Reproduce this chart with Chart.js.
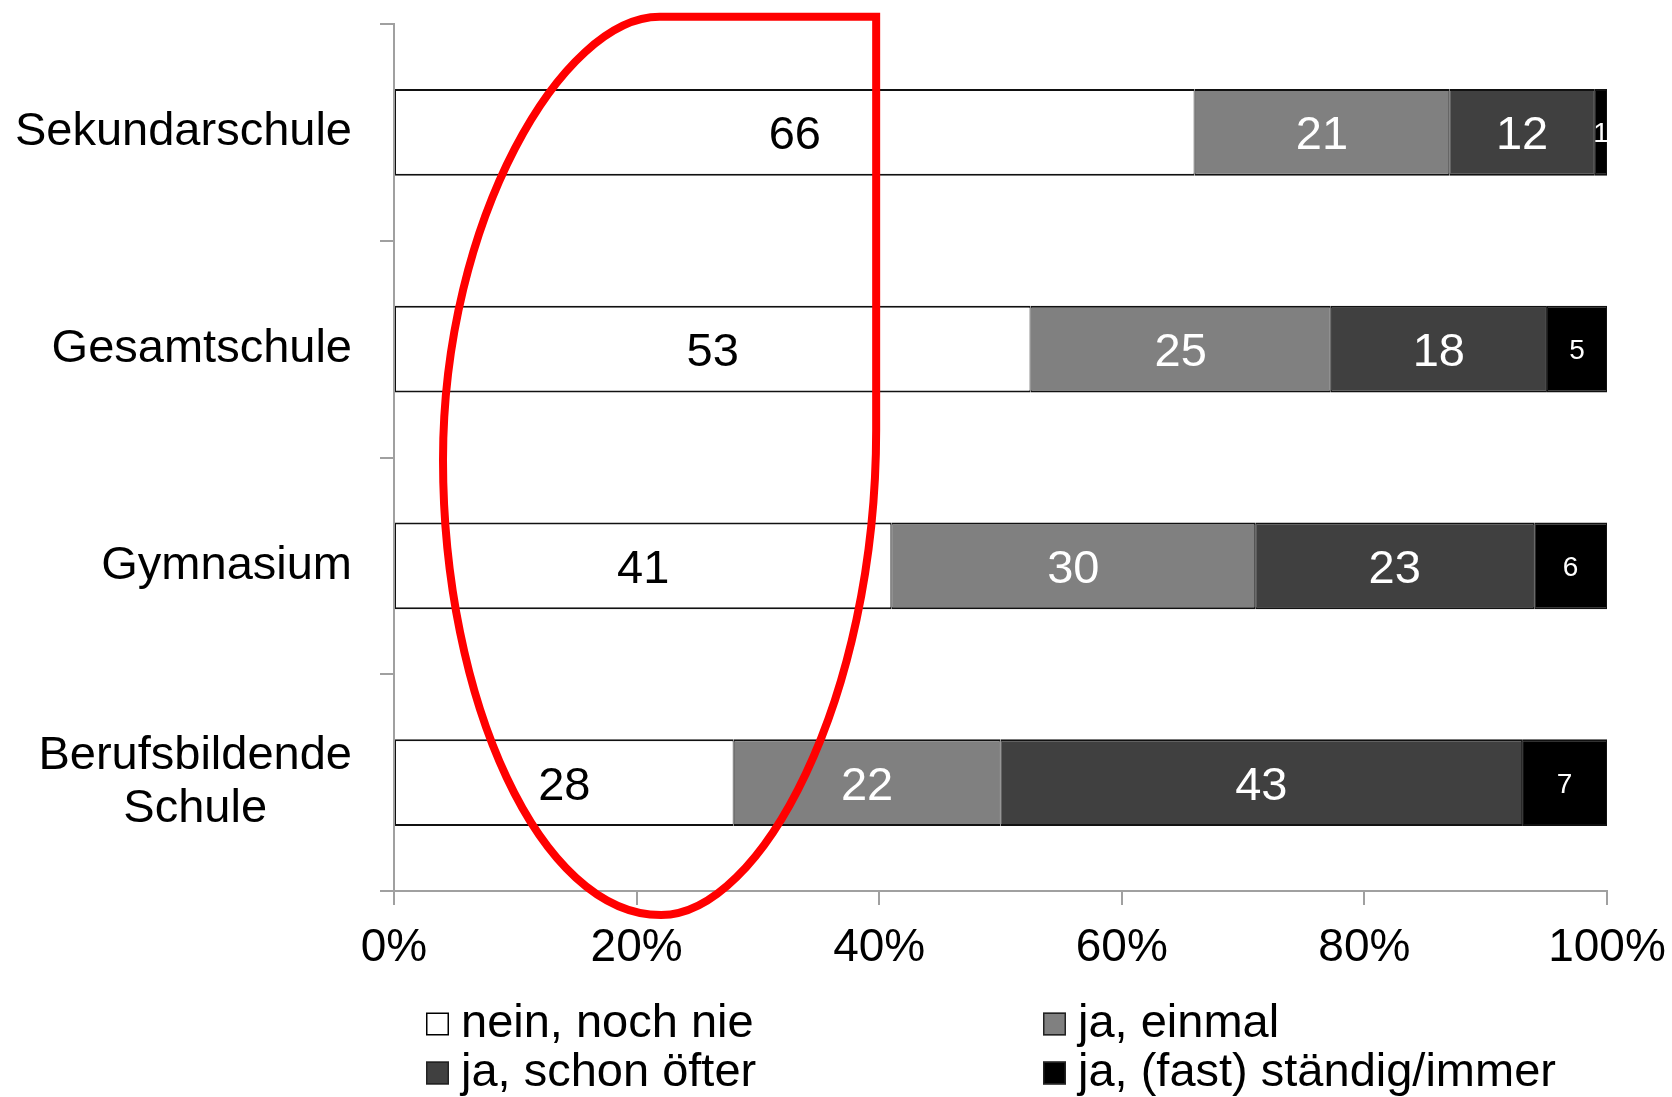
<!DOCTYPE html>
<html>
<head>
<meta charset="utf-8">
<title>Schulformen</title>
<script src="https://cdn.jsdelivr.net/npm/chart.js@4.4.1/dist/chart.umd.min.js"></script>
<style>
  html, body { margin: 0; padding: 0; background: #ffffff; }
  #wrap { width: 1672px; height: 1097px; position: relative; }
</style>
</head>
<body>
<div id="wrap"><canvas id="chart"></canvas></div>
<script>
// Categories (multi-line labels as arrays of lines)
const categories = [["Sekundarschule"], ["Gesamtschule"], ["Gymnasium"], ["Berufsbildende", "Schule"]];

// Answer categories
const seriesNames = ["nein, noch nie", "ja, einmal", "ja, schon öfter", "ja, (fast) ständig/immer"];

// Percent values per school type
const neinNochNie   = [66, 53, 41, 28];
const jaEinmal      = [21, 25, 30, 22];
const jaSchonOefter = [12, 18, 23, 43];
const jaStaendig    = [1, 5, 6, 7];

const xTickLabels = ["0%", "20%", "40%", "60%", "80%", "100%"];

// Styling
const FONT = "'Liberation Sans', Arial, Helvetica, sans-serif";
const seriesColors = ["#ffffff", "#808080", "#404040", "#000000"];
const labelColors  = ["#000000", "#ffffff", "#ffffff", "#ffffff"];
const AXIS_GREY = "#a0a0a0";

const seriesValues = [neinNochNie, jaEinmal, jaSchonOefter, jaStaendig];
const rowTotals = categories.map((_, i) => seriesValues.reduce((s, arr) => s + arr[i], 0));

Chart.defaults.font.family = FONT;
Chart.defaults.color = "#000000";

const datasets = seriesValues.map((vals, k) => ({
  label: seriesNames[k],
  counts: vals,
  // 100 % stacked: each segment is its share of the row total
  data: vals.map((v, i) => v / rowTotals[i] * 100),
  backgroundColor: seriesColors[k],
  borderColor: "#111111",
  borderWidth: { top: 2, bottom: 2, left: 1, right: 1 },
  borderSkipped: false,
  categoryPercentage: 1.0,
  barPercentage: 0.4
}));

// Values written into the bar segments
const segmentLabels = {
  id: "segmentLabels",
  afterDatasetsDraw(chart) {
    const ctx = chart.ctx;
    ctx.save();
    ctx.textAlign = "center";
    ctx.textBaseline = "alphabetic";
    chart.data.datasets.forEach((ds, di) => {
      const meta = chart.getDatasetMeta(di);
      meta.data.forEach((bar, i) => {
        const v = ds.counts[i];
        const small = v < 10;
        ctx.font = (small ? "28px " : "47px ") + FONT;
        ctx.fillStyle = labelColors[di];
        ctx.fillText(String(v), (bar.x + bar.base) / 2, bar.y + (small ? 10 : 17));
      });
    });
    ctx.restore();
  }
};

// Category names: right-aligned block, lines centred within the block
const categoryLabels = {
  id: "categoryLabels",
  afterDraw(chart) {
    const ctx = chart.ctx;
    const y = chart.scales.y;
    const right = y.right - 42;
    const lineH = 53;
    ctx.save();
    ctx.font = "47px " + FONT;
    ctx.fillStyle = "#000000";
    ctx.textAlign = "center";
    ctx.textBaseline = "alphabetic";
    categories.forEach((lines, i) => {
      const cy = y.getPixelForValue(i);
      const w = Math.max(...lines.map(l => ctx.measureText(l).width));
      const cx = right - w / 2;
      const first = cy - (lines.length - 1) * lineH / 2;
      lines.forEach((l, j) => ctx.fillText(l, cx, first + j * lineH + 13));
    });
    ctx.restore();
  }
};

// Two-column legend below the axis
const gridLegend = {
  id: "gridLegend",
  afterDraw(chart) {
    const ctx = chart.ctx;
    const colX = [426, 1043];
    const rowY = [1024, 1073];
    const box = 23;
    ctx.save();
    ctx.font = "47px " + FONT;
    ctx.textAlign = "left";
    ctx.textBaseline = "middle";
    chart.data.datasets.forEach((ds, k) => {
      const x = colX[k % 2], yy = rowY[Math.floor(k / 2)];
      ctx.fillStyle = ds.backgroundColor;
      ctx.fillRect(x, yy - box / 2, box, box);
      ctx.lineWidth = 1.5;
      ctx.strokeStyle = k === 0 ? "#000000" : "#222222";
      ctx.strokeRect(x + 0.75, yy - box / 2 + 0.75, box - 1.5, box - 1.5);
      ctx.fillStyle = "#000000";
      ctx.fillText(ds.label, x + box + 12, yy);
    });
    ctx.restore();
  }
};

// Red outline marking the lower answer range (x in %, y in category units)
const highlight = {
  id: "highlight",
  afterDraw(chart) {
    const xs = chart.scales.x, ys = chart.scales.y;
    const P = (xv, yv) => [xs.getPixelForValue(xv), ys.getPixelForValue(yv)];
    const ctx = chart.ctx;
    const top = P(39.75, -0.533);
    ctx.save();
    ctx.strokeStyle = "#ff0000";
    ctx.lineWidth = 8;
    ctx.lineJoin = "miter";
    ctx.beginPath();
    ctx.moveTo(...top);
    ctx.lineTo(...P(21.9, -0.533));
    ctx.bezierCurveTo(...P(13.9, -0.533), ...P(4.04, 0.404), ...P(4.04, 1.511));
    ctx.bezierCurveTo(...P(4.04, 2.618), ...P(12.04, 3.611), ...P(22.02, 3.611));
    ctx.bezierCurveTo(...P(30.19, 3.611), ...P(39.75, 2.618), ...P(39.75, 1.373));
    ctx.closePath();
    ctx.stroke();
    ctx.restore();
  }
};

new Chart(document.getElementById("chart"), {
  type: "bar",
  data: { labels: categories, datasets },
  plugins: [segmentLabels, categoryLabels, gridLegend, highlight],
  options: {
    indexAxis: "y",
    responsive: true,
    maintainAspectRatio: false,
    animation: false,
    layout: { padding: { top: 24, right: 65, bottom: 0, left: 0 } },
    plugins: { legend: { display: false }, tooltip: { enabled: false } },
    scales: {
      x: {
        stacked: true,
        min: 0,
        max: 100,
        ticks: {
          stepSize: 20,
          padding: 16,
          font: { size: 46 },
          color: "#000000",
          maxRotation: 0,
          callback: (v, i) => xTickLabels[i]
        },
        grid: { drawOnChartArea: false, drawTicks: true, tickLength: 14, color: AXIS_GREY, lineWidth: 2 },
        border: { display: true, color: AXIS_GREY, width: 2 },
        afterFit: s => { s.height = 206; s.paddingLeft = 0; s.paddingRight = 0; }
      },
      y: {
        stacked: true,
        ticks: { display: false },
        grid: { offset: true, drawOnChartArea: false, drawTicks: true, tickLength: 14, color: AXIS_GREY, lineWidth: 2 },
        border: { display: true, color: AXIS_GREY, width: 2 },
        afterFit: s => { s.width = 394; }
      }
    }
  }
});
</script>
</body>
</html>
